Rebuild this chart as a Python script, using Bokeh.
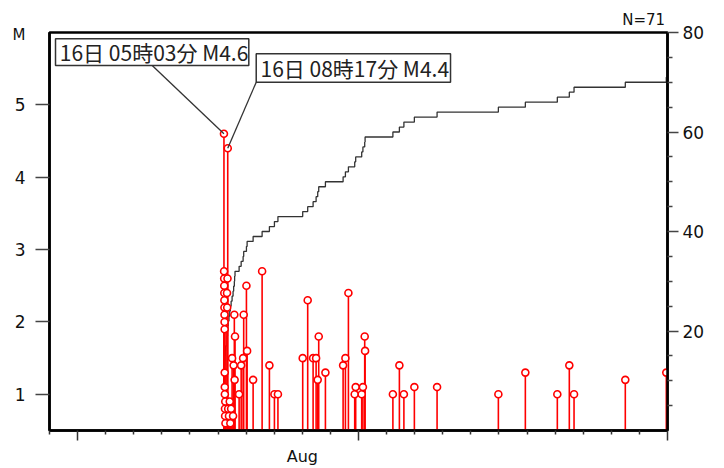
import numpy as np
from bokeh.plotting import figure
from bokeh.models import Range1d, LinearAxis, FixedTicker, Label, BoxAnnotation, ColumnDataSource
from bokeh.embed import file_html
from bokeh.resources import INLINE

# ---- data: event origin times (August, "DD HH:MM") and magnitudes ----
times = [
    "16 05:03", "16 05:10", "16 05:14", "16 05:18", "16 05:21", "16 05:25", "16 05:28", "16 05:32", "16 05:35", "16 05:39",
    "16 05:42", "16 05:46", "16 05:50", "16 05:55", "16 06:02", "16 06:10", "16 06:20",
    "16 07:40", "16 07:50", "16 08:05", "16 08:17", "16 08:40",
    "16 09:20", "16 10:00", "16 10:30", "16 11:10",
    "16 12:00", "16 12:50",
    "16 13:20", "16 13:55", "16 14:10", "16 14:30",
    "16 18:00", "16 19:45", "16 21:25", "16 21:55", "17 00:15", "17 00:50",
    "17 05:58", "17 13:39", "17 19:53", "18 00:10", "18 03:10",
    "19 00:20", "19 04:36", "19 09:13", "19 11:47", "19 13:09", "19 14:01", "19 19:44",
    "20 10:51", "20 12:49", "20 15:23", "20 20:46", "20 21:36",
    "21 02:44", "21 03:46", "21 05:18", "21 05:38",
    "22 05:23", "22 10:56", "22 14:47", "22 23:44", "23 19:08",
    "25 23:30", "26 22:33", "28 01:52", "28 12:07", "28 16:09", "30 11:57", "31 22:58",
]
mags = [
    4.6, 2.7, 2.6, 2.5, 2.4, 2.3, 2.2, 2.1, 2.0, 1.9,
    1.3, 1.1, 1.0, 0.8, 0.7, 0.9, 0.6,
    2.4, 2.2, 2.6, 4.4, 0.8,
    0.7, 0.9, 0.6, 0.8,
    1.5, 0.7,
    1.4, 2.1, 1.2, 1.8,
    1.0, 1.4, 1.5, 2.1, 2.5, 1.6,
    1.2, 2.7, 1.4, 1.0, 1.0,
    1.5, 2.3, 1.5, 1.5, 1.2, 1.8, 1.3,
    1.4, 1.5, 2.4, 1.0, 1.1,
    1.0, 1.1, 1.8, 1.6,
    1.0, 1.4, 1.0, 1.1, 1.1,
    1.0, 1.3, 1.0, 1.4, 1.0, 1.2, 1.3,
]
callout_texts = ["16日 05時03分 M4.6", "16日 08時17分 M4.4"]
callout_events = [0, 20]          # indices of the annotated events
left_ticks = [1, 2, 3, 4, 5]
right_ticks = [20, 40, 60, 80]
month_label = "Aug"
axis_title = "M"
count_label = "N=%d" % len(mags)

# ---- derived ----
def to_day(s):
    d, hm = s.split(" ")
    h, m = hm.split(":")
    return int(d) + int(h) / 24.0 + int(m) / 1440.0

t = np.array([to_day(s) for s in times])
m = np.array(mags)
t_sorted = np.sort(t)
n = len(t)

X0, X1 = 10.0, 32.0
Y0, Y1 = 0.5, 6.0

p = figure(width=724, height=468, output_backend="svg", toolbar_location=None,
           x_range=Range1d(X0, X1), y_range=Range1d(Y0, Y1),
           min_border_left=49, min_border_right=57, min_border_top=32, min_border_bottom=38)
p.extra_y_ranges = {"count": Range1d(0, 80)}
p.xgrid.visible = False
p.ygrid.visible = False
p.outline_line_color = "black"
p.outline_line_width = 2.5
p.background_fill_color = "white"
p.border_fill_color = "white"


def text_only_axis(tick, text, size, standoff, **kw):
    ax = LinearAxis(ticker=FixedTicker(ticks=[tick], minor_ticks=[]),
                    major_label_overrides={tick: text}, **kw)
    ax.axis_line_color = None
    ax.major_tick_line_color = None
    ax.major_tick_out = 0
    ax.major_tick_in = 0
    ax.major_label_standoff = standoff
    ax.major_label_text_font = "DejaVu Sans"
    ax.major_label_text_font_size = size
    ax.major_label_text_color = "#111111"
    return ax


# x axis (days of August)
xa = p.xaxis[0]
majors_x = [11, 21, 32]
xa.ticker = FixedTicker(ticks=majors_x, minor_ticks=[d for d in range(10, 32) if d not in majors_x])
xa.major_label_overrides = {k: "" for k in majors_x}
xa.major_label_standoff = 0
xa.major_tick_out = 10
xa.major_tick_in = 0
xa.minor_tick_out = 4
xa.minor_tick_in = 0
xa.axis_line_width = 2.5
xa.major_tick_line_color = "#333333"
xa.minor_tick_line_color = "#333333"
xa.major_tick_line_width = 1.5
xa.minor_tick_line_width = 1.5

# month name under the time axis, count text above the frame
p.add_layout(text_only_axis(19, month_label, "16px", 6), "below")
p.add_layout(text_only_axis(31.15, count_label, "15px", 4), "above")

# left axis (magnitude)
ya = p.yaxis[0]
ya.ticker = FixedTicker(ticks=left_ticks, minor_ticks=[])
ya.major_tick_out = 14
ya.major_tick_in = 0
ya.major_label_standoff = 10
ya.axis_line_width = 2.5
ya.major_tick_line_color = "#444444"
ya.major_tick_line_width = 1.5
ya.major_label_text_font = "DejaVu Sans"
ya.major_label_text_font_size = "17px"
ya.major_label_text_color = "#111111"

# "M" over the magnitude axis
p.add_layout(text_only_axis(5.972, axis_title, "15px", -14), "left")

# right axis (cumulative number)
ra = LinearAxis(y_range_name="count",
                ticker=FixedTicker(ticks=right_ticks, minor_ticks=[v for v in range(5, 80, 5) if v not in right_ticks]))
ra.major_tick_out = 11
ra.major_tick_in = 0
ra.minor_tick_out = 5
ra.minor_tick_in = 0
ra.major_label_standoff = 4
ra.axis_line_width = 2.5
ra.major_tick_line_color = "#444444"
ra.minor_tick_line_color = "#444444"
ra.major_tick_line_width = 1.5
ra.minor_tick_line_width = 1.5
ra.major_label_text_font = "DejaVu Sans"
ra.major_label_text_font_size = "17px"
ra.major_label_text_color = "#111111"
p.add_layout(ra, "right")

# cumulative count step curve
step_x = np.concatenate([[t_sorted[0]], t_sorted, [X1]])
step_y = np.concatenate([[0], np.arange(1, n + 1), [n]])
p.step(step_x, step_y, mode="after", y_range_name="count", line_color="#333333", line_width=1.3)

# stems + heads
src = ColumnDataSource(dict(t=t, m=m, base=np.full(n, Y0)))
p.segment(x0="t", y0="base", x1="t", y1="m", source=src, line_color="#ff0000", line_width=1.6)
p.scatter(x="t", y="m", source=src, marker="circle", size=7, line_color="#ff0000",
          fill_color="#ffffff", line_width=1.6)

# callouts (layout positions in data coordinates)
boxes = [  # left, right, bottom, top
    (10.214, 17.095, 5.544, 5.913),
    (17.359, 24.276, 5.313, 5.706),
]
text_pos = [(10.367, 5.728), (17.512, 5.510)]
leader_from = [(13.656, 5.544), (17.359, 5.313)]
for i, ev in enumerate(callout_events):
    lx, ly = leader_from[i]
    p.segment(x0=[lx], y0=[ly], x1=[t[ev]], y1=[m[ev]], line_color="#333333", line_width=1.3)
for i, (l, r, b, tp) in enumerate(boxes):
    p.add_layout(BoxAnnotation(left=l, right=r, bottom=b, top=tp, fill_color="white", fill_alpha=1.0,
                               line_color="#333333", line_width=1.5, line_alpha=1.0))
    tx, ty = text_pos[i]
    p.add_layout(Label(x=tx, y=ty, text=callout_texts[i], text_align="left", text_baseline="middle",
                       text_font="Noto Sans CJK JP", text_font_size="21px", text_color="#222222"))

open("out.html", "w").write(file_html(p, INLINE))
